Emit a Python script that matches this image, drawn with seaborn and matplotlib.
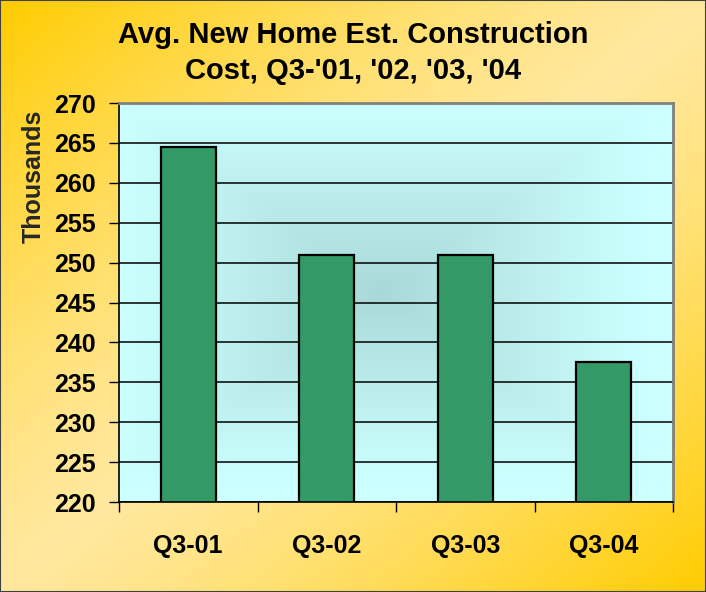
import numpy as np
import matplotlib
matplotlib.use("Agg")
import matplotlib.pyplot as plt
from matplotlib.colors import to_rgb
import seaborn as sns

# ----------------- chart data -----------------
quarters = ["Q3-01", "Q3-02", "Q3-03", "Q3-04"]
avg_cost_thousands = [264.5, 251.0, 251.0, 237.5]
y_ticks = [220, 225, 230, 235, 240, 245, 250, 255, 260, 265, 270]
title_text = "Avg. New Home Est. Construction\nCost, Q3-'01, '02, '03, '04"
y_label = "Thousands"
# ----------------------------------------------

sns.set_style("ticks")
plt.rcParams["font.family"] = ["Liberation Sans", "DejaVu Sans"]
plt.rcParams["font.weight"] = "bold"
plt.rcParams["text.color"] = "black"
plt.rcParams["xtick.color"] = "black"
plt.rcParams["ytick.color"] = "black"

W, H, DPI = 7.06, 5.92, 100
fig = plt.figure(figsize=(W, H), dpi=DPI)

# figure background: diagonal yellow/orange gradient
bg = fig.add_axes([0, 0, 1, 1], zorder=-10)
gx, gy = np.meshgrid(np.linspace(0, 1, 300), np.linspace(0, 1, 250))
u = np.abs(gx + gy - 1.0) ** 1.3
light = np.array(to_rgb("#FFE89E"))
orange = np.array(to_rgb("#FFCC00"))
img = light + (orange - light) * u[..., None]
bg.imshow(img, extent=[0, 1, 0, 1], aspect="auto", origin="upper")
bg.set_axis_off()
bg.add_patch(plt.Rectangle((0, 0), 1, 1, fill=False, edgecolor="#404040", lw=1.5,
                           transform=bg.transAxes))

ax = fig.add_axes([119 / 706, 1 - 502 / 592, (673 - 119) / 706, (502 - 103) / 592])

# plot area: light cyan at edges, darker teal toward centre
px, py = np.meshgrid(np.linspace(-1, 1, 300), np.linspace(-1, 1, 250))
t = np.clip(np.maximum(np.abs(px + 0.05), np.abs(py + 0.05)) * 1.05, 0, 1)
t = t ** 0.9
edge_c = np.array(to_rgb("#CCFFFF"))
mid_c = np.array(to_rgb("#A8D8D8"))
area = mid_c + (edge_c - mid_c) * t[..., None]
ax.imshow(area, extent=[-0.5, 3.5, 220, 270], aspect="auto", origin="upper", zorder=0)

sns.barplot(x=quarters, y=avg_cost_thousands, color="#339966", saturation=1,
            width=0.4, edgecolor="black", linewidth=1.6, ax=ax, zorder=2)

ax.set_xlim(-0.5, 3.5)
ax.set_ylim(220, 270)
ax.set_yticks(y_ticks)
ax.set_yticklabels([str(v) for v in y_ticks], fontsize=18, fontweight="bold")
ax.yaxis.grid(True, color="black", lw=1.1, zorder=1)
ax.set_axisbelow(True)

# category ticks sit between the bars, labels at bar centres
ax.set_xticks(range(len(quarters)))
ax.set_xticklabels(quarters, fontsize=18, fontweight="bold")
ax.set_xticks([-0.5, 0.5, 1.5, 2.5, 3.5], minor=True)
ax.tick_params(axis="x", which="major", length=0, pad=23)
ax.tick_params(axis="x", which="minor", length=7, width=1, color="black", direction="out")
ax.tick_params(axis="y", length=7, width=1, color="black", pad=10)

ax.set_xlabel("")
ax.set_ylabel(y_label, fontsize=18, fontweight="bold")
ax.yaxis.set_label_coords(-0.132, (502 - 176) / 399)

for side in ["left", "bottom"]:
    ax.spines[side].set_color("black")
    ax.spines[side].set_linewidth(1.2)
for side in ["top", "right"]:
    ax.spines[side].set_visible(True)
    ax.spines[side].set_color("#808080")
    ax.spines[side].set_linewidth(2)

fig.text(0.5, 1 - 53 / 592, title_text, ha="center", va="center",
         fontsize=21, fontweight="bold", linespacing=1.35)

fig.savefig("out.png", dpi=DPI)
